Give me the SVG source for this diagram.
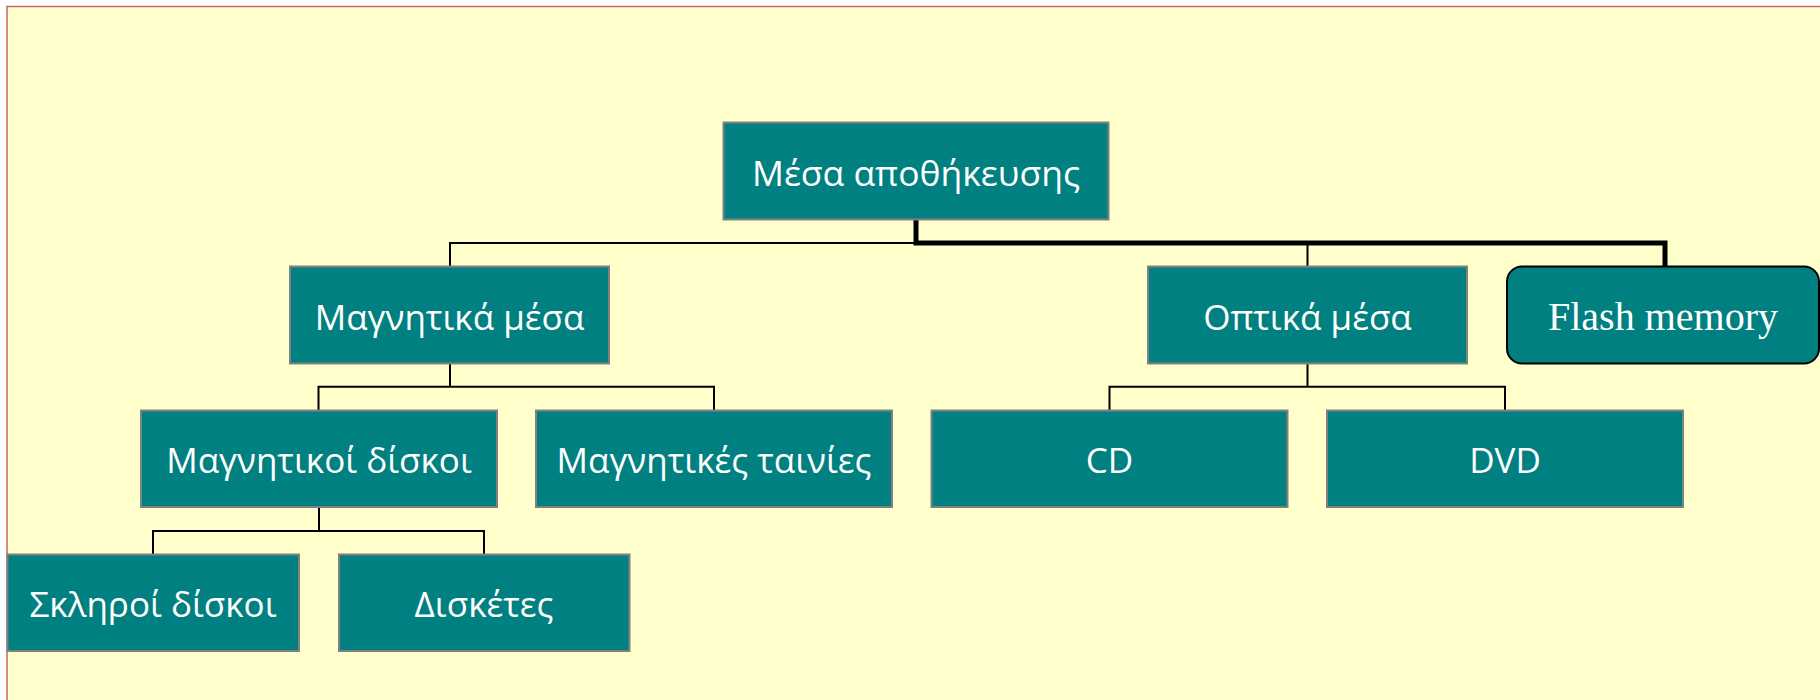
<svg xmlns="http://www.w3.org/2000/svg" width="1820" height="700" viewBox="0 0 1820 700">
<defs>
<style>
.bg{fill:#FFFFCC;stroke:#C8646A;stroke-width:1.5}
.box{fill:#008080;stroke:#808080;stroke-width:2}
.flash{fill:#008080;stroke:#000000;stroke-width:2}
.lbl{font-family:"Open Sans","Noto Sans","DejaVu Sans",sans-serif;font-size:35px;fill:#FFFFFF;text-anchor:middle}
.lblserif{font-family:"Liberation Serif","Times New Roman",serif;font-size:40px;fill:#FFFFFF;text-anchor:middle}
.thin{fill:none;stroke:#000000;stroke-width:2}
.thick{fill:none;stroke:#000000;stroke-width:5}
</style>
</defs>
<rect x="0" y="0" width="1820" height="700" fill="#FFFFFF"/>
<rect class="bg" x="7" y="6.5" width="1840" height="720"/>
<g id="connectors">
<path class="thin" d="M916,243 H450 V266.5"/>
<path class="thin" d="M1307.5,243 V266.5"/>
<path class="thick" d="M916,219.5 V243 H1665 V266.5"/>
<path class="thin" d="M450,363.5 V386.7 M318.5,410.5 V386.7 H714 V410.5"/>
<path class="thin" d="M319,507 V531 M153,554.5 V531 H484 V554.5"/>
<path class="thin" d="M1307.5,363.5 V386.7 M1109.5,410.5 V386.7 H1505 V410.5"/>
</g>
<g id="node-root">
<rect class="box" x="723.5" y="122.5" width="385" height="97"/>
<text class="lbl" x="916" y="185.5" textLength="328" lengthAdjust="spacingAndGlyphs">Μέσα αποθήκευσης</text>
</g>
<g id="node-magnetika">
<rect class="box" x="290" y="266.5" width="319" height="97"/>
<text class="lbl" x="449.5" y="329.5">Μαγνητικά μέσα</text>
</g>
<g id="node-optika">
<rect class="box" x="1148" y="266.5" width="319" height="97"/>
<text class="lbl" x="1307.5" y="329.5">Οπτικά μέσα</text>
</g>
<g id="node-flash">
<rect class="flash" x="1507" y="266.5" width="312" height="97" rx="15" ry="15"/>
<text class="lblserif" x="1663" y="329.5">Flash memory</text>
</g>
<g id="node-magnetikoi-diskoi">
<rect class="box" x="141" y="410.5" width="356" height="96.5"/>
<text class="lbl" x="319" y="473">Μαγνητικοί δίσκοι</text>
</g>
<g id="node-magnetikes-tainies">
<rect class="box" x="536" y="410.5" width="356" height="96.5"/>
<text class="lbl" x="714" y="473">Μαγνητικές ταινίες</text>
</g>
<g id="node-cd">
<rect class="box" x="931.5" y="410.5" width="356" height="96.5"/>
<text class="lbl" x="1109.5" y="473">CD</text>
</g>
<g id="node-dvd">
<rect class="box" x="1327" y="410.5" width="356" height="96.5"/>
<text class="lbl" x="1505" y="473">DVD</text>
</g>
<g id="node-sklhroi">
<rect class="box" x="7.5" y="554.5" width="291.5" height="96.5"/>
<text class="lbl" x="153" y="617">Σκληροί δίσκοι</text>
</g>
<g id="node-disketes">
<rect class="box" x="339" y="554.5" width="290.5" height="96.5"/>
<text class="lbl" x="484" y="617">Δισκέτες</text>
</g>
</svg>
